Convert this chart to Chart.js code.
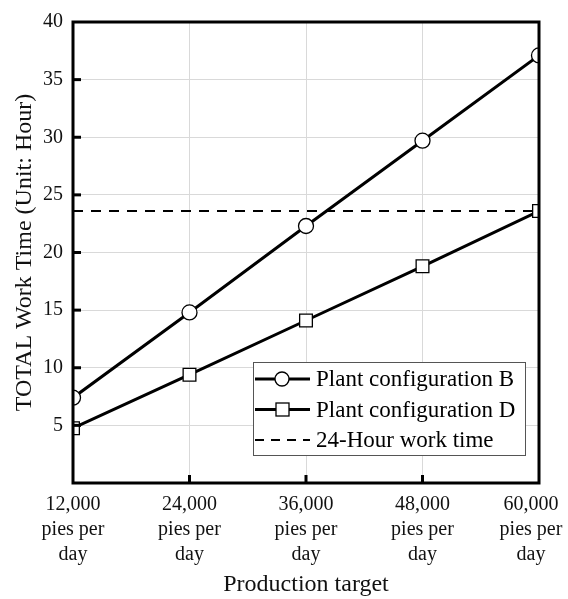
<!DOCTYPE html>
<html>
<head>
<meta charset="utf-8">
<script src="https://cdn.jsdelivr.net/npm/chart.js@4.4.1/dist/chart.umd.min.js"></script>
<style>
  html, body { margin: 0; padding: 0; background: #fff; }
  #wrap { width: 568px; height: 599px; }
</style>
</head>
<body>
<div id="wrap"><canvas id="chart"></canvas></div>
<script>
// Production targets (pies per day)
const targets = [
    ['12,000', 'pies per', 'day'],
    ['24,000', 'pies per', 'day'],
    ['36,000', 'pies per', 'day'],
    ['48,000', 'pies per', 'day'],
    ['60,000', 'pies per', 'day']
];

// Total work time in hours
const configB = [7.4, 14.8, 22.3, 29.7, 37.1];
const configD = [4.75, 9.4, 14.1, 18.8, 23.6];
const workLimit = [23.6, 23.6, 23.6, 23.6, 23.6];

const serif = "'Liberation Serif', 'DejaVu Serif', serif";

// Thick frame + inward tick marks drawn over the lines
const framePlugin = {
    id: 'frame',
    beforeDraw(chart) {
        // nudge the last category label inward so it stays on the canvas
        const items = chart.scales.x.getLabelItems();
        const last = items[items.length - 1];
        if (last && !last._nudged) {
            last.options.translation[0] -= 8;
            last._nudged = true;
        }
    },
    afterDatasetsDraw(chart) {
        const { ctx, chartArea: a, scales } = chart;
        ctx.save();
        ctx.strokeStyle = '#000';
        ctx.lineWidth = 3;
        ctx.strokeRect(a.left, a.top, a.right - a.left, a.bottom - a.top);
        scales.y.ticks.forEach(t => {
            if (t.value <= 0 || t.value >= 40) return;
            const y = scales.y.getPixelForValue(t.value);
            ctx.beginPath();
            ctx.moveTo(a.left, y);
            ctx.lineTo(a.left + 8, y);
            ctx.stroke();
        });
        scales.x.ticks.forEach((t, i) => {
            if (i === 0 || i === targets.length - 1) return;
            const x = scales.x.getPixelForValue(i);
            ctx.beginPath();
            ctx.moveTo(x, a.bottom);
            ctx.lineTo(x, a.bottom - 8);
            ctx.stroke();
        });
        ctx.restore();
    }
};

// Boxed legend inside the plot area
const legendBox = {
    id: 'legendBox',
    afterDraw(chart) {
        const { ctx } = chart;
        const x0 = 253, y0 = 362, w = 272, h = 93;
        ctx.save();
        ctx.fillStyle = '#fff';
        ctx.fillRect(x0, y0, w, h);
        ctx.strokeStyle = '#555';
        ctx.lineWidth = 1;
        ctx.strokeRect(x0 + 0.5, y0 + 0.5, w, h);
        const rows = [
            { text: 'Plant configuration B', marker: 'circle', dash: [] },
            { text: 'Plant configuration D', marker: 'rect', dash: [] },
            { text: '24-Hour work time', marker: null, dash: [9, 7] }
        ];
        ctx.font = '23px ' + serif;
        ctx.textBaseline = 'middle';
        rows.forEach((r, i) => {
            const y = 379 + i * 30.5;
            ctx.strokeStyle = '#000';
            ctx.lineWidth = r.dash.length ? 2 : 3;
            ctx.setLineDash(r.dash);
            ctx.beginPath();
            ctx.moveTo(x0 + 2, y);
            ctx.lineTo(x0 + 57, y);
            ctx.stroke();
            ctx.setLineDash([]);
            ctx.lineWidth = 1.3;
            ctx.fillStyle = '#fff';
            if (r.marker === 'circle') {
                ctx.beginPath();
                ctx.arc(x0 + 29, y, 7, 0, Math.PI * 2);
                ctx.fill();
                ctx.stroke();
            } else if (r.marker === 'rect') {
                ctx.fillRect(x0 + 23, y - 6.5, 13, 13);
                ctx.strokeRect(x0 + 23, y - 6.5, 13, 13);
            }
            ctx.fillStyle = '#000';
            ctx.fillText(r.text, x0 + 63, y + 1);
        });
        ctx.restore();
    }
};

new Chart(document.getElementById('chart'), {
    type: 'line',
    data: {
        labels: targets,
        datasets: [
            {
                label: 'Plant configuration B',
                data: configB,
                borderColor: '#000',
                borderWidth: 3,
                pointStyle: 'circle',
                pointRadius: 7.5,
                pointBackgroundColor: '#fff',
                pointBorderColor: '#000',
                pointBorderWidth: 1.3,
                tension: 0,
                clip: 0
            },
            {
                label: 'Plant configuration D',
                data: configD,
                borderColor: '#000',
                borderWidth: 3,
                pointStyle: 'rect',
                pointRadius: 9,
                pointBackgroundColor: '#fff',
                pointBorderColor: '#000',
                pointBorderWidth: 1.3,
                tension: 0,
                clip: 0
            },
            {
                label: '24-Hour work time',
                data: workLimit,
                borderColor: '#000',
                borderWidth: 2.2,
                borderDash: [10, 8],
                pointRadius: 0,
                tension: 0,
                clip: 0,
                order: 3
            }
        ]
    },
    options: {
        responsive: true,
        maintainAspectRatio: false,
        animation: false,
        layout: { padding: { top: 20, right: 29, bottom: 0, left: 0 } },
        plugins: {
            legend: { display: false },
            tooltip: { enabled: false }
        },
        scales: {
            x: {
                offset: false,
                afterFit: s => {
                    s.height = 116;
                    s.paddingLeft = 0;
                    s.paddingRight = 0;
                },
                grid: { color: '#d9d9d9', lineWidth: 1, drawTicks: false },
                border: { display: false },
                ticks: {
                    color: '#111',
                    font: { family: serif, size: 20, lineHeight: 1.25 },
                    padding: 9,
                    maxRotation: 0,
                    autoSkip: false
                },
                title: {
                    display: true,
                    text: 'Production target',
                    color: '#111',
                    font: { family: serif, size: 24 },
                    padding: { top: 0, bottom: 0 }
                }
            },
            y: {
                min: 0,
                max: 40,
                afterFit: s => { s.width = 73; },
                grid: { color: '#d9d9d9', lineWidth: 1, drawTicks: false },
                border: { display: false },
                ticks: {
                    stepSize: 5,
                    color: '#111',
                    font: { family: serif, size: 20 },
                    padding: 10,
                    callback: v => (v === 0 ? '' : v)
                },
                title: {
                    display: true,
                    text: 'TOTAL Work Time (Unit: Hour)',
                    color: '#111',
                    font: { family: serif, size: 24 },
                    padding: { top: 10, bottom: 0 }
                }
            }
        }
    },
    plugins: [framePlugin, legendBox]
});
</script>
</body>
</html>
